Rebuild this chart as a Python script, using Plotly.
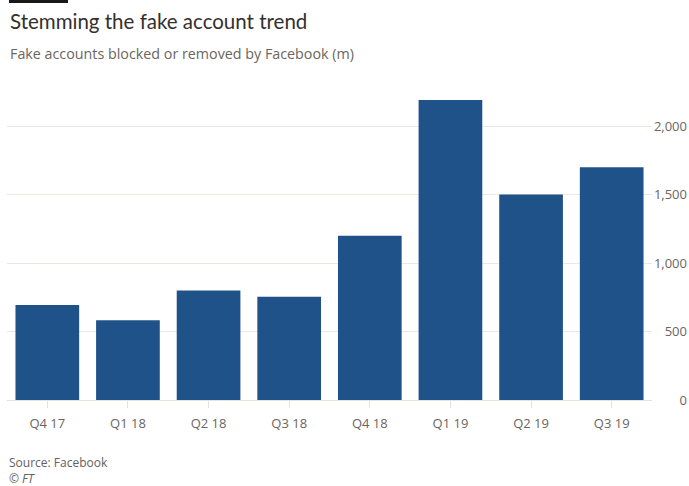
import plotly.graph_objects as go

quarters = ["Q4 17", "Q1 18", "Q2 18", "Q3 18", "Q4 18", "Q1 19", "Q2 19", "Q3 19"]
fake_accounts_m = [694, 583, 800, 754, 1200, 2190, 1500, 1700]
y_ticks = [0, 500, 1000, 1500, 2000]
y_tick_labels = ["0", "500", "1,000", "1,500", "2,000"]

W, H = 689, 486
ml, mr, mt, mb = 7, 2, 85, 86
pw = W - ml - mr
ph = H - mt - mb

def px_x(x):
    return (x - ml) / pw

def px_y(y):
    return (H - mb - y) / ph

FONT = "Open Sans"
TFONT = "Lato"
fig = go.Figure()
fig.add_trace(go.Bar(
    x=quarters, y=fake_accounts_m,
    marker=dict(color="#20528a", line=dict(width=0)),
    width=0.79,
    hoverinfo="x+y",
))

fig.update_layout(
    width=W, height=H,
    margin=dict(l=ml, r=mr, t=mt, b=mb),
    paper_bgcolor="white", plot_bgcolor="white",
    showlegend=False,
    bargap=0.21,
    font=dict(family=FONT, color="#66605c", size=12),
    xaxis=dict(
        domain=[0, (652 - ml) / pw],
        range=[-0.5, 7.5],
        showgrid=False, zeroline=False, showline=False,
        ticks="outside", ticklen=7, tickcolor="#e6e2de", tickwidth=1,
        tickfont=dict(family=FONT, size=13, color="#6b6561"),
        ticklabelstandoff=4,
    ),
    yaxis=dict(
        range=[0, 2300],
        tickvals=y_ticks,
        showticklabels=False,
        showgrid=True, gridcolor="#ebe7e3", gridwidth=1,
        zeroline=True, zerolinecolor="#e6e2de", zerolinewidth=1,
        ticks="",
    ),
    yaxis2=dict(
        overlaying="y", matches="y", anchor="free", position=1, side="left",
        range=[0, 2300],
        tickvals=y_ticks, ticktext=y_tick_labels,
        showgrid=False, zeroline=False, showline=False, ticks="",
        tickfont=dict(family=FONT, size=13, color="#6b6561"),
    ),
)

fig.add_trace(go.Scatter(x=[quarters[0]], y=[0], yaxis="y2", mode="markers",
                         marker=dict(opacity=0), hoverinfo="skip"))

fig.add_shape(type="rect", xref="paper", yref="paper",
              x0=px_x(9), x1=px_x(68), y0=px_y(0), y1=px_y(3),
              fillcolor="#1a1817", line=dict(width=0))

fig.add_annotation(text="Stemming the fake account trend", xref="paper", yref="paper",
                   x=px_x(8), y=px_y(21), xanchor="left", yanchor="middle", showarrow=False,
                   font=dict(family=TFONT, size=20.5, color="#33302e"))
fig.add_annotation(text="Fake accounts blocked or removed by Facebook (m)", xref="paper", yref="paper",
                   x=px_x(8), y=px_y(54), xanchor="left", yanchor="middle", showarrow=False,
                   font=dict(family=FONT, size=14.3, color="#6b6561"))
fig.add_annotation(text="Source: Facebook<br><i>© FT</i>", xref="paper", yref="paper",
                   x=px_x(8), y=px_y(470), xanchor="left", yanchor="middle", align="left",
                   showarrow=False, borderpad=0,
                   font=dict(family=FONT, size=12, color="#66605c"))

fig.write_html("out.html")
